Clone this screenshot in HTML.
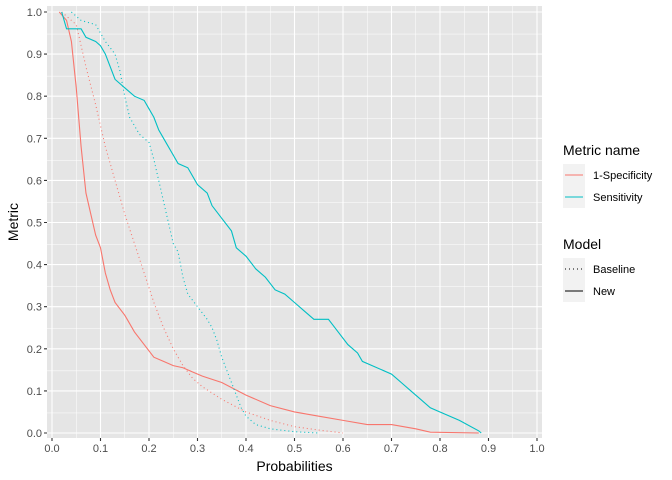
<!DOCTYPE html>
<html><head><meta charset="utf-8"><style>body{margin:0;background:#fff}svg{display:block;font-family:"Liberation Sans",sans-serif}</style></head><body>
<svg width="672" height="480" xmlns="http://www.w3.org/2000/svg">
<rect x="47" y="6" width="495" height="432" fill="#e5e5e5"/>
<g stroke="#fff" fill="none">
<g stroke-width="0.5">
<path d="M76.25 6V438M124.75 6V438M173.25 6V438M221.75 6V438M270.25 6V438M318.75 6V438M367.25 6V438M415.75 6V438M464.25 6V438M512.75 6V438"/>
<path d="M47 412.95H542M47 370.85H542M47 328.75H542M47 286.65H542M47 244.55H542M47 202.45H542M47 160.35H542M47 118.25H542M47 76.15H542M47 34.05H542"/>
</g>
<g stroke-width="1.1">
<path d="M52 6V438M100.5 6V438M149 6V438M197.5 6V438M246 6V438M294.5 6V438M343 6V438M391.5 6V438M440 6V438M488.5 6V438M537 6V438"/>
<path d="M47 433H542M47 390.9H542M47 348.8H542M47 306.7H542M47 264.6H542M47 222.5H542M47 180.4H542M47 138.3H542M47 96.2H542M47 54.1H542M47 12H542"/>
</g>
</g>
<g transform="translate(52,433) scale(485,-421)" fill="none" stroke-width="1.1">
<polyline vector-effect="non-scaling-stroke" stroke="#f8766d" points="0.015,1 0.03,0.98 0.04,0.93 0.05,0.82 0.06,0.68 0.07,0.57 0.08,0.52 0.09,0.47 0.10,0.44 0.11,0.38 0.12,0.34 0.13,0.31 0.15,0.28 0.17,0.24 0.19,0.21 0.21,0.18 0.23,0.17 0.25,0.16 0.27,0.155 0.29,0.145 0.31,0.135 0.35,0.12 0.40,0.09 0.45,0.065 0.5,0.05 0.55,0.04 0.6,0.03 0.65,0.02 0.7,0.02 0.75,0.01 0.78,0.002 0.88,0"/>
<polyline vector-effect="non-scaling-stroke" stroke="#f8766d" stroke-dasharray="1,3" points="0.02,1 0.05,0.97 0.07,0.87 0.09,0.78 0.11,0.68 0.13,0.6 0.15,0.52 0.17,0.45 0.19,0.38 0.21,0.31 0.23,0.25 0.25,0.2 0.27,0.16 0.29,0.13 0.31,0.11 0.35,0.08 0.40,0.05 0.45,0.03 0.5,0.015 0.55,0.007 0.6,0"/>
<polyline vector-effect="non-scaling-stroke" stroke="#00bfc4" points="0.02,1 0.03,0.96 0.06,0.96 0.07,0.94 0.09,0.93 0.10,0.92 0.11,0.90 0.12,0.87 0.13,0.84 0.15,0.82 0.17,0.80 0.19,0.79 0.20,0.77 0.21,0.75 0.22,0.72 0.23,0.70 0.25,0.66 0.26,0.64 0.28,0.63 0.30,0.59 0.32,0.57 0.33,0.54 0.35,0.51 0.37,0.48 0.38,0.44 0.40,0.42 0.42,0.39 0.44,0.37 0.46,0.34 0.48,0.33 0.50,0.31 0.52,0.29 0.54,0.27 0.57,0.27 0.59,0.24 0.61,0.21 0.63,0.19 0.64,0.17 0.66,0.16 0.70,0.14 0.72,0.12 0.74,0.10 0.76,0.08 0.78,0.06 0.80,0.05 0.84,0.03 0.88,0.005 0.885,0"/>
<polyline vector-effect="non-scaling-stroke" stroke="#00bfc4" stroke-dasharray="1,3" points="0.04,1 0.06,0.98 0.09,0.97 0.10,0.95 0.11,0.93 0.13,0.90 0.14,0.86 0.15,0.80 0.16,0.75 0.18,0.71 0.20,0.69 0.21,0.65 0.22,0.60 0.23,0.55 0.24,0.50 0.25,0.45 0.26,0.43 0.27,0.37 0.28,0.33 0.30,0.30 0.32,0.27 0.33,0.25 0.34,0.22 0.35,0.18 0.36,0.15 0.37,0.12 0.38,0.09 0.39,0.06 0.40,0.04 0.42,0.02 0.45,0.01 0.5,0.003 0.55,0"/>
</g>
<g stroke="#333" stroke-width="1.1">
<path d="M52 438v3M100.5 438v3M149 438v3M197.5 438v3M246 438v3M294.5 438v3M343 438v3M391.5 438v3M440 438v3M488.5 438v3M537 438v3"/>
<path d="M44 433h3M44 390.9h3M44 348.8h3M44 306.7h3M44 264.6h3M44 222.5h3M44 180.4h3M44 138.3h3M44 96.2h3M44 54.1h3M44 12h3"/>
</g>
<g font-size="11" fill="#4d4d4d" text-anchor="middle">
<text x="52" y="452">0.0</text><text x="100.5" y="452">0.1</text><text x="149" y="452">0.2</text><text x="197.5" y="452">0.3</text><text x="246" y="452">0.4</text><text x="294.5" y="452">0.5</text><text x="343" y="452">0.6</text><text x="391.5" y="452">0.7</text><text x="440" y="452">0.8</text><text x="488.5" y="452">0.9</text><text x="537" y="452">1.0</text>
</g>
<g font-size="11" fill="#4d4d4d" text-anchor="end">
<text x="42" y="437">0.0</text><text x="42" y="394.9">0.1</text><text x="42" y="352.8">0.2</text><text x="42" y="310.7">0.3</text><text x="42" y="268.6">0.4</text><text x="42" y="226.5">0.5</text><text x="42" y="184.4">0.6</text><text x="42" y="142.3">0.7</text><text x="42" y="100.2">0.8</text><text x="42" y="58.1">0.9</text><text x="42" y="16">1.0</text>
</g>
<text x="294.5" y="471" font-size="14" text-anchor="middle" fill="#000">Probabilities</text>
<text transform="translate(18,222) rotate(-90)" font-size="14" text-anchor="middle" fill="#000">Metric</text>
<text x="563" y="155" font-size="14">Metric name</text>
<rect x="563" y="164" width="22" height="22" fill="#f2f2f2"/><rect x="563" y="186" width="22" height="22" fill="#f2f2f2"/>
<path d="M565 175h18" stroke="#f8766d" stroke-width="1.1"/><path d="M565 197h18" stroke="#00bfc4" stroke-width="1.1"/>
<text x="593" y="179" font-size="11">1-Specificity</text><text x="593" y="201" font-size="11">Sensitivity</text>
<text x="563" y="249" font-size="14">Model</text>
<rect x="563" y="258" width="22" height="22" fill="#f2f2f2"/><rect x="563" y="280" width="22" height="22" fill="#f2f2f2"/>
<path d="M565 269h18" stroke="#000" stroke-width="1.1" stroke-dasharray="1,3"/><path d="M565 291h18" stroke="#000" stroke-width="1.1"/>
<text x="593" y="273" font-size="11">Baseline</text><text x="593" y="295" font-size="11">New</text>
</svg>
</body></html>
